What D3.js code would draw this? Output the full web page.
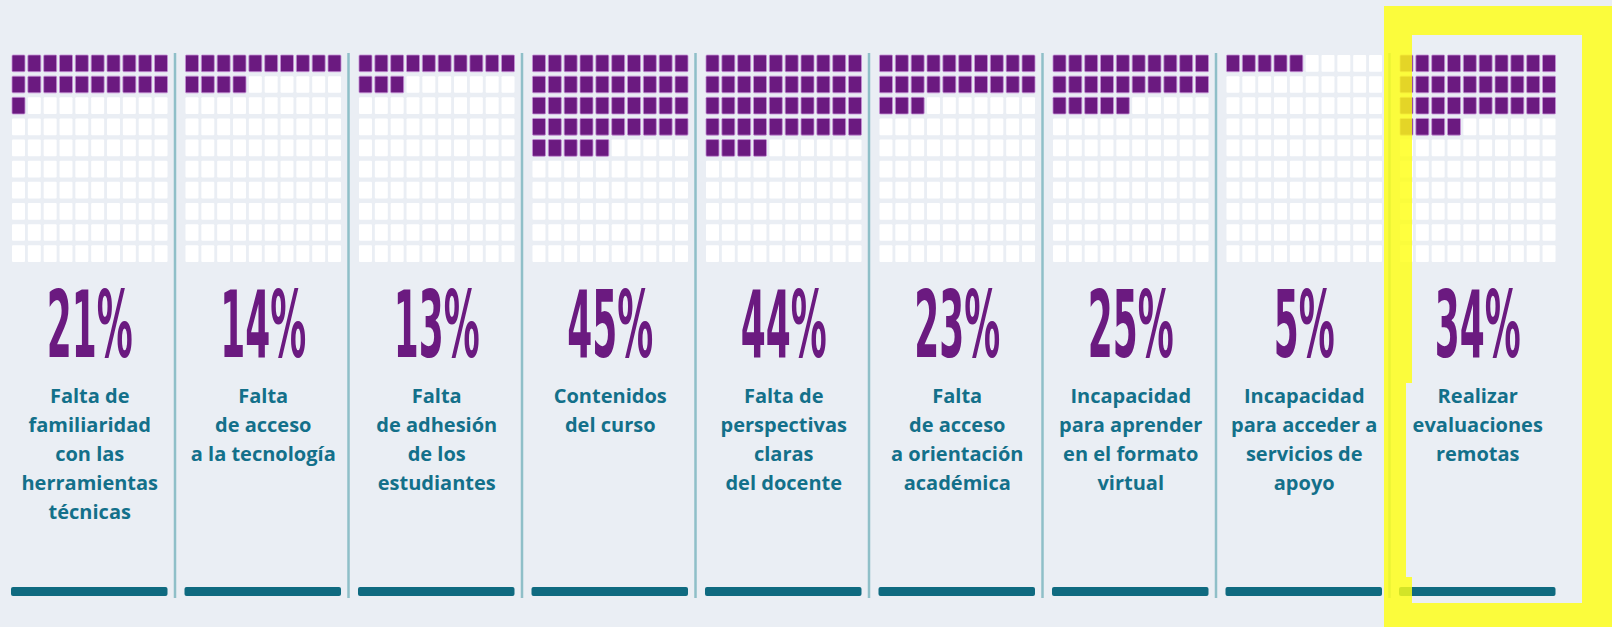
<!DOCTYPE html>
<html>
<head>
<meta charset="utf-8">
<script src="https://cdn.jsdelivr.net/npm/d3@7"></script>
<style>
  body { margin: 0; background: #eaeef4; }
  svg { display: block; }
</style>
</head>
<body>
<div id="chart"></div>
<script>
// Chart data
var values = [21, 14, 13, 45, 44, 23, 25, 5, 34];
var pctLabels = ["21%", "14%", "13%", "45%", "44%", "23%", "25%", "5%", "34%"];
var categories = [
  ["Falta de", "familiaridad", "con las", "herramientas", "técnicas"],
  ["Falta", "de acceso", "a la tecnología"],
  ["Falta", "de adhesión", "de los", "estudiantes"],
  ["Contenidos", "del curso"],
  ["Falta de", "perspectivas", "claras", "del docente"],
  ["Falta", "de acceso", "a orientación", "académica"],
  ["Incapacidad", "para aprender", "en el formato", "virtual"],
  ["Incapacidad", "para acceder a", "servicios de", "apoyo"],
  ["Realizar", "evaluaciones", "remotas"]
];
var highlighted = 8;

var svgWidth = 1612;
var svgHeight = 627;

var purple = "#6b1a80";
var teal = "#13708a";

var svg = d3.select("#chart")
  .append("svg")
  .attr("width", svgWidth)
  .attr("height", svgHeight);

svg.append("rect")
  .attr("width", svgWidth)
  .attr("height", svgHeight)
  .attr("fill", "#eaeef4");

// one band per panel
var panelScale = d3.scaleBand()
  .domain(d3.range(values.length))
  .range([12, 1555.5])
  .paddingInner(0.1037)
  .paddingOuter(0);

// 10 x 10 waffle cells inside a panel
var colScale = d3.scaleBand()
  .domain(d3.range(10))
  .range([0, panelScale.bandwidth()])
  .paddingInner(0.18);

var rowScale = d3.scaleBand()
  .domain(d3.range(10))
  .range([55, 262])
  .paddingInner(0.21);

// separators between panels
svg.selectAll(".sep")
  .data(d3.range(values.length - 1))
  .enter()
  .append("line")
  .attr("class", "sep")
  .attr("x1", i => panelScale(i) + panelScale.bandwidth() + 7.5)
  .attr("x2", i => panelScale(i) + panelScale.bandwidth() + 7.5)
  .attr("y1", 53)
  .attr("y2", 598)
  .attr("stroke", "#8fbfc8")
  .attr("stroke-width", 2.5);

var panels = svg.selectAll(".panel")
  .data(values)
  .enter()
  .append("g")
  .attr("class", "panel")
  .attr("transform", (d, i) => `translate(${panelScale(i)}, 0)`);

// waffle cells
panels.selectAll("rect.cell")
  .data(d => d3.range(100).map(k => ({ k: k, on: k < d })))
  .enter()
  .append("rect")
  .attr("class", "cell")
  .attr("x", c => colScale(c.k % 10))
  .attr("y", c => rowScale(Math.floor(c.k / 10)))
  .attr("width", colScale.bandwidth())
  .attr("height", rowScale.bandwidth())
  .attr("rx", 1)
  .attr("fill", c => c.on ? purple : "#ffffff")
  .attr("stroke", c => c.on ? "#c58fd6" : "none")
  .attr("stroke-width", 0.8);

// big percentage, squeezed so that "25%" is about 86px wide
var numbers = panels.append("text")
  .attr("text-anchor", "middle")
  .style("font-family", "'Liberation Sans Narrow', 'DejaVu Sans Condensed', Roboto")
  .style("font-weight", 700)
  .style("font-size", "93px")
  .style("fill", purple)
  .text((d, i) => pctLabels[i]);

var refWidth = numbers.filter((d, i) => i === 6).node().getComputedTextLength();
var numScaleX = 86 / refWidth;
numbers.attr("transform", `translate(${panelScale.bandwidth() / 2}, 357) scale(${numScaleX}, 1)`);

// category labels
panels.each(function(d, i) {
  var t = d3.select(this).append("text")
    .attr("text-anchor", "middle")
    .style("font-family", "'Open Sans'")
    .style("font-weight", 700)
    .style("font-size", "20px")
    .style("fill", teal);

  t.selectAll("tspan")
    .data(categories[i])
    .enter()
    .append("tspan")
    .attr("x", panelScale.bandwidth() / 2)
    .attr("y", (line, j) => 403 + j * 29)
    .text(line => line);
});

// bottom bars
panels.append("rect")
  .attr("x", -1)
  .attr("y", 587)
  .attr("width", panelScale.bandwidth() + 1)
  .attr("height", 9)
  .attr("rx", 2)
  .attr("fill", "#0f6a80");

// yellow highlight frame around the last panel
var fx = panelScale(highlighted);
svg.append("path")
  .attr("d", `M${fx - 16},6 H1612 V627 H${fx - 16} Z ` +
    `M${fx + 12},35 V383 H${fx + 6} V577 H${fx + 12} V603 H1582 V35 Z`)
  .attr("fill", "#ffff14")
  .attr("fill-rule", "evenodd")
  .attr("opacity", 0.82);
</script>
</body>
</html>
